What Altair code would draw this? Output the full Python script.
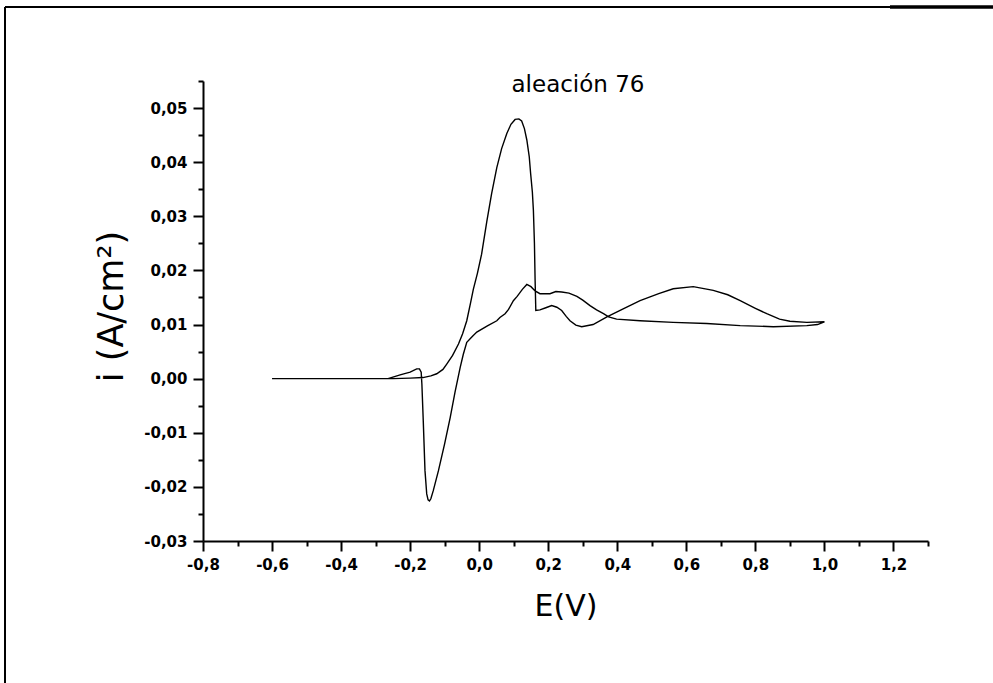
import altair as alt
import pandas as pd

# Forward (anodic) scan
E_fwd = [-0.60, -0.40, -0.25, -0.20, -0.163, -0.14, -0.123, -0.105, -0.094, -0.077,
         -0.060, -0.048, -0.036, -0.025, -0.017, -0.005, 0.007, 0.022, 0.036, 0.051,
         0.065, 0.080, 0.092, 0.104, 0.115, 0.123, 0.131, 0.138, 0.145, 0.149,
         0.154, 0.157, 0.160, 0.162, 0.164, 0.176, 0.193, 0.210, 0.225, 0.239,
         0.252, 0.263, 0.280, 0.297, 0.330, 0.370, 0.420, 0.466, 0.520, 0.562,
         0.620, 0.678, 0.720, 0.756, 0.800, 0.833, 0.870, 0.900, 0.949, 1.000]
I_fwd = [0.0, 0.0, 0.0, 0.0001, 0.0002, 0.0005, 0.0009, 0.0017, 0.0027, 0.0043,
         0.0064, 0.0083, 0.0107, 0.0140, 0.0165, 0.0195, 0.0230, 0.0290, 0.0342, 0.0390,
         0.0425, 0.0453, 0.0470, 0.0479, 0.0480, 0.0476, 0.0462, 0.0441, 0.0410, 0.0379,
         0.0345, 0.0311, 0.0250, 0.0181, 0.0126, 0.0127, 0.0131, 0.0135, 0.0132, 0.0126,
         0.0115, 0.0107, 0.0099, 0.0096, 0.0100, 0.0114, 0.0130, 0.0144, 0.0157, 0.0166,
         0.0170, 0.0163, 0.0155, 0.0144, 0.0130, 0.0120, 0.0110, 0.0106, 0.0104, 0.0105]

# Reverse (cathodic) scan
E_rev = [1.000, 0.980, 0.949, 0.852, 0.756, 0.659, 0.562, 0.466, 0.398, 0.375,
         0.360, 0.340, 0.321, 0.300, 0.283, 0.260, 0.239, 0.222, 0.205, 0.176,
         0.162, 0.150, 0.138, 0.125, 0.110, 0.099, 0.085, 0.075, 0.060, 0.051,
         0.025, -0.007, -0.020, -0.036, -0.046, -0.055, -0.070, -0.084, -0.100, -0.118,
         -0.133, -0.140, -0.144, -0.148, -0.152, -0.157, -0.162, -0.166, -0.168, -0.173,
         -0.181, -0.200, -0.229, -0.264, -0.40, -0.60]
I_rev = [0.0105, 0.0100, 0.0098, 0.0096, 0.0098, 0.0102, 0.0104, 0.0107, 0.0110, 0.0114,
         0.0120, 0.0127, 0.0135, 0.0145, 0.0152, 0.0158, 0.0160, 0.0161, 0.0157, 0.0157,
         0.0162, 0.0170, 0.0174, 0.0165, 0.0152, 0.0144, 0.0128, 0.0120, 0.0113, 0.0107,
         0.0098, 0.0086, 0.0078, 0.0067, 0.0045, 0.0021, -0.0025, -0.0072, -0.0120, -0.0170,
         -0.0207, -0.0222, -0.0226, -0.0224, -0.0213, -0.0170, -0.0078, -0.0010, 0.0012, 0.0018,
         0.0018, 0.0012, 0.0007, 0.0, 0.0, 0.0]

x_ticks = [round(-0.8 + 0.1 * k, 1) for k in range(22)]
y_ticks = [round(-0.03 + 0.005 * k, 3) for k in range(18)]

TITLE = "aleación 76"

E = E_fwd + E_rev
I = I_fwd + I_rev
df = pd.DataFrame({"E": E, "i": I, "order": list(range(len(E)))})

FONT = "DejaVu Sans"

x_axis = alt.Axis(
    values=x_ticks,
    labelExpr="abs(round(datum.value*10)) % 2 == 0 ? replace(replace(format(datum.value, '.1f'), '.', ','), '\u2212', '-') : ''",
    tickSize={"condition": {"test": "abs(round(datum.value*10)) % 2 == 0", "value": 10}, "value": 5},
    tickWidth=2, tickColor="black", domainColor="black", domainWidth=2,
    labelFont=FONT, labelFontWeight="bold", labelFontSize=15, labelColor="black",
    labelPadding=6, labelFlush=False, labelOverlap=False, grid=False,
    title="E(V)", titleFont=FONT, titleFontSize=30, titleFontWeight="normal",
    titleColor="black", titleBaseline="alphabetic", titleY=74,
)
y_axis = alt.Axis(
    values=y_ticks,
    labelExpr="abs(round(datum.value*1000)) % 10 == 0 ? replace(replace(format(datum.value, '.2f'), '.', ','), '\u2212', '-') : ''",
    tickSize={"condition": {"test": "abs(round(datum.value*1000)) % 10 == 0", "value": 10}, "value": 5},
    tickWidth=2, tickColor="black", domainColor="black", domainWidth=2,
    labelFont=FONT, labelFontWeight="bold", labelFontSize=15, labelColor="black",
    labelPadding=6, labelFlush=False, labelOverlap=False, grid=False,
    title="i (A/cm\u00b2)", titleFont=FONT, titleFontSize=35, titleFontWeight="normal",
    titleColor="black", titleX=-74, titleY=225,
)

curve = alt.Chart(df).mark_line(color="black", strokeWidth=1.4).encode(
    x=alt.X("E:Q", scale=alt.Scale(domain=[-0.8, 1.3], nice=False, zero=False), axis=x_axis),
    y=alt.Y("i:Q", scale=alt.Scale(domain=[-0.03, 0.055], nice=False, zero=False), axis=y_axis),
    order="order:Q",
)

one = pd.DataFrame({"t": [TITLE]})
title_mark = alt.Chart(one).mark_text(
    font=FONT, fontSize=23, color="black", align="center", baseline="alphabetic"
).encode(text="t:N", x=alt.value(375), y=alt.value(11))
top_line = alt.Chart(one).mark_rule(color="black", strokeWidth=2).encode(
    x=alt.value(-198), x2=alt.value(790), y=alt.value(-74))
top_thick = alt.Chart(one).mark_rule(color="black", strokeWidth=3.5).encode(
    x=alt.value(687), x2=alt.value(790), y=alt.value(-74))
left_line = alt.Chart(one).mark_rule(color="black", strokeWidth=2).encode(
    x=alt.value(-198), y=alt.value(-74), y2=alt.value(602))

chart = alt.layer(curve, title_mark, top_line, top_thick, left_line).properties(
    width=725, height=460,
    autosize=alt.AutoSizeParams(type="none"),
    padding={"left": 203, "top": 81, "right": 65, "bottom": 142},
    background="white",
).configure_view(stroke=None)

chart.save("out.html", embed_options={"renderer": "svg", "actions": False})
